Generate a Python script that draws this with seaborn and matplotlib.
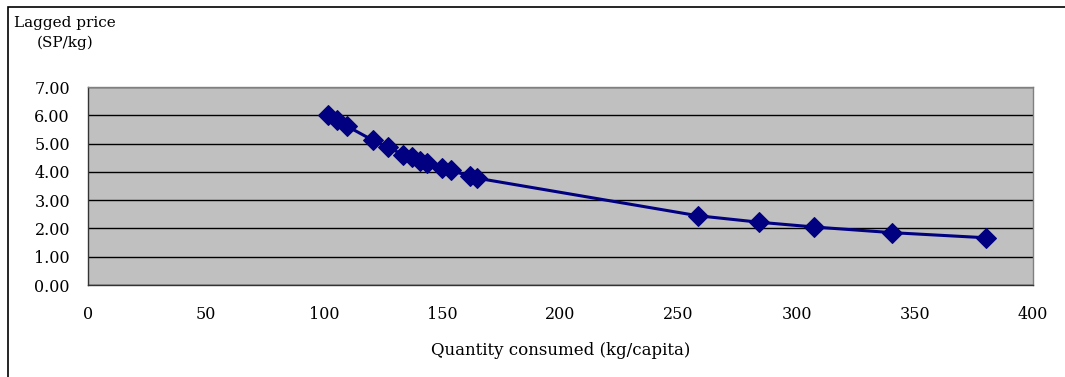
import matplotlib
matplotlib.use("Agg")
import matplotlib.pyplot as plt
import seaborn as sns
import pandas as pd
from matplotlib.patches import Rectangle

# Data
quantity = [101.7, 105.5, 109.5, 120.5, 127.0, 133.5, 137.0, 140.5, 143.5,
            149.7, 153.5, 161.7, 164.5, 258.0, 284.0, 307.5, 340.5, 380.0]
price = [6.00, 5.85, 5.62, 5.12, 4.87, 4.60, 4.52, 4.40, 4.32,
         4.15, 4.05, 3.85, 3.78, 2.45, 2.22, 2.05, 1.85, 1.67]
x_ticks = [0, 50, 100, 150, 200, 250, 300, 350, 400]
y_ticks = [0, 1, 2, 3, 4, 5, 6, 7]

df = pd.DataFrame({"quantity": quantity, "price": price})

sns.set_style("white")
plt.rcParams['font.family'] = ['DejaVu Serif']
plt.rcParams['text.color'] = 'black'
plt.rcParams['axes.labelcolor'] = 'black'

fig = plt.figure(figsize=(10.65, 3.77), dpi=100)
ax = fig.add_axes([88 / 1065, 1 - 285 / 377, (1033 - 88) / 1065, (285 - 87) / 377])

# outer chart frame (cropped at right/bottom in reference)
fig.patches.append(Rectangle((8 / 1065, -0.05), 1.2, 1 - 7 / 377 + 0.05,
                             transform=fig.transFigure, fill=False,
                             edgecolor="black", linewidth=1.2))

ax.set_facecolor("#C0C0C0")
sns.lineplot(data=df, x="quantity", y="price", ax=ax, sort=False,
             color="#000080", linewidth=2.2, marker="D", markersize=10,
             markeredgecolor="#000080", markerfacecolor="#000080")

ax.set_xlim(0, 400)
ax.set_ylim(0, 7)
ax.set_xticks(x_ticks)
ax.set_xticklabels([str(t) for t in x_ticks])
ax.set_yticks(y_ticks)
ax.set_yticklabels([f"{t:.2f}" for t in y_ticks])
ax.yaxis.grid(True, color="black", linewidth=1.0)
ax.set_axisbelow(True)

for side in ["top", "right"]:
    ax.spines[side].set_color("#808080")
    ax.spines[side].set_linewidth(1.0)
for side in ["left", "bottom"]:
    ax.spines[side].set_color("#333333")
    ax.spines[side].set_linewidth(1.0)

ax.tick_params(axis="both", direction="out", length=5, width=1, colors="black",
               labelsize=11.5)
ax.tick_params(axis="x", pad=10)
ax.tick_params(axis="y", pad=8)

ax.set_xlabel("Quantity consumed (kg/capita)", fontsize=12, labelpad=14, color="black")
ax.set_ylabel("")
fig.text(65 / 1065, 1 - 33 / 377, "Lagged price\n(SP/kg)", ha="center", va="center",
         fontsize=11, linespacing=1.5, color="black")

fig.savefig("out.png", dpi=100, facecolor="white")
